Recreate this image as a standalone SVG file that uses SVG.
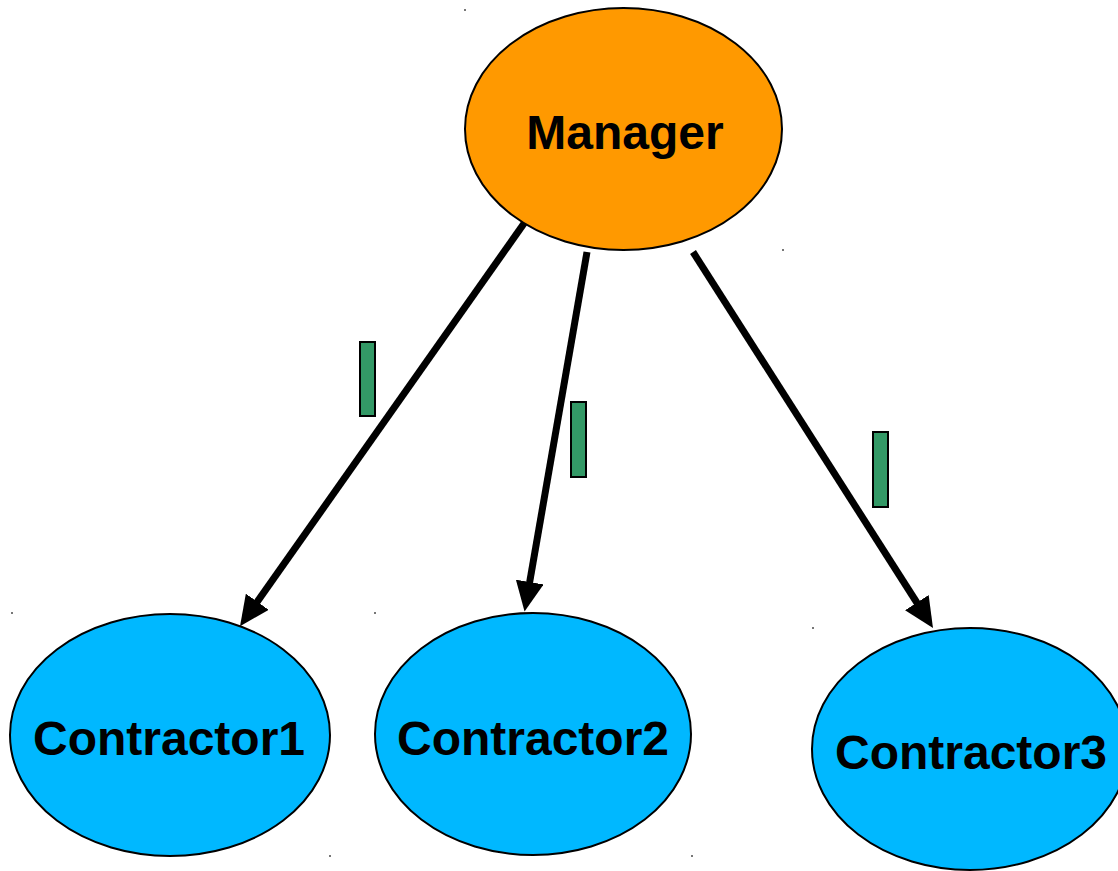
<svg xmlns="http://www.w3.org/2000/svg" width="1118" height="871" viewBox="0 0 1118 871">
  <style>
    .node { stroke: #000; stroke-width: 2; }
    .manager { fill: #ff9900; }
    .contractor { fill: #00b8ff; }
    .label { font-family: "Liberation Sans", Arial, sans-serif; font-weight: bold; font-size: 48px; fill: #000; text-anchor: middle; }
    .edge { stroke: #000; stroke-width: 7; fill: none; marker-end: url(#head); }
    .msg { fill: #339966; stroke: #000; stroke-width: 2; }
    .dot { fill: #777; }
  </style>
  <defs>
    <!-- arrowhead: the line stops at the base, the triangle carries the tip -->
    <marker id="head" markerUnits="userSpaceOnUse" markerWidth="30" markerHeight="28" refX="4" refY="14" orient="auto">
      <path d="M0,0 L30,14 L0,28 Z" fill="#000"/>
    </marker>
  </defs>
  <rect width="1118" height="871" fill="#fff"/>

  <!-- bounding-box handles -->
  <g id="handles">
    <rect class="dot" x="464" y="9" width="2" height="2"/>
    <rect class="dot" x="782" y="249" width="2" height="2"/>
    <rect class="dot" x="11" y="612" width="2" height="2"/>
    <rect class="dot" x="374" y="612" width="2" height="2"/>
    <rect class="dot" x="329" y="855" width="2" height="2"/>
    <rect class="dot" x="691" y="855" width="2" height="2"/>
    <rect class="dot" x="812" y="627" width="2" height="2"/>
  </g>

  <g id="connectors">
    <!-- end points placed 26px back from each tip along the line -->
    <line class="edge" x1="525" y1="222" x2="255" y2="605"/>
    <line class="edge" x1="587" y1="252" x2="529" y2="586"/>
    <line class="edge" x1="693" y1="252" x2="919" y2="606"/>
    <rect class="msg" x="360" y="342" width="15" height="74"/>
    <rect class="msg" x="571" y="402" width="15" height="75"/>
    <rect class="msg" x="873" y="432" width="15" height="75"/>
  </g>

  <g id="manager">
    <ellipse class="node manager" cx="623.5" cy="129" rx="158.5" ry="121"/>
    <text class="label" x="625" y="149">Manager</text>
  </g>
  <g id="contractor1">
    <ellipse class="node contractor" cx="170" cy="735" rx="160" ry="121"/>
    <text class="label" x="169" y="755">Contractor1</text>
  </g>
  <g id="contractor2">
    <ellipse class="node contractor" cx="533" cy="734" rx="158" ry="121"/>
    <text class="label" x="533" y="755">Contractor2</text>
  </g>
  <g id="contractor3">
    <ellipse class="node contractor" cx="970" cy="749" rx="158" ry="121"/>
    <text class="label" x="971" y="769">Contractor3</text>
  </g>
</svg>
